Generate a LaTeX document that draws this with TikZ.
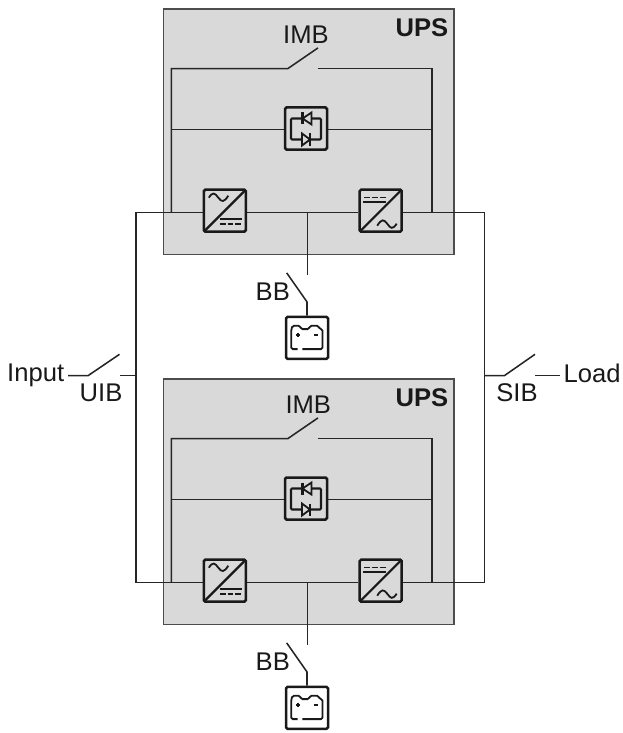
\documentclass[tikz,border=0pt]{standalone}
\usepackage{fontspec}
\setmainfont{Liberation Sans}
\tikzset{
    wire/.style={line width=1.55pt, color=black!85},
    upsbox/.style={draw=black!70, line width=1.1pt, fill=black!15},
    unitbox/.style={draw=black!90, line width=2.5pt, rounded corners=1.5pt, minimum size=42pt, inner sep=0pt, fill=#1},
    glyph/.style={line width=1.8pt, color=black!90},
    lbl/.style={inner sep=0pt, font=\fontsize{25.6}{25.6}\selectfont, text=black!90},
    ac dc/.pic={
        \draw[glyph, line width=2.2pt] (-21,21) -- (21,-21);
        \draw[glyph] (-16,-13) .. controls (-12,-19) and (-10,-18) .. (-6.5,-13) .. controls (-3,-8.5) and (-1,-8) .. (3.5,-15);
        \draw[glyph] (-5,8.5) -- (17.5,8.5);
        \draw[glyph, dash pattern=on 5.8pt off 2pt] (-5,13.2) -- (17.5,13.2);
    },
    thyr pair/.pic={
        \draw[glyph, line width=2.1pt, rounded corners=1pt] (-3.5,-10) -- (-15,-10) -- (-15,11) -- (-4,11);
        \draw[glyph, line width=2.1pt, rounded corners=1pt] (5.5,-10) -- (15,-10) -- (15,11) -- (4,11);
        \draw[glyph] (5.5,-16) -- (-3.5,-10) -- (5.5,-4) -- cycle;
        \draw[glyph, line width=2.3pt] (-3.5,-16) -- (-3.5,-4);
        \draw[glyph] (-4,5) -- (4,11) -- (-4,17) -- cycle;
        \draw[glyph, line width=2.3pt] (4,5) -- (4,17);
    },
    batt cell/.pic={
        \draw[glyph, rounded corners=1.5pt] (-4.7,11.3) -- (15.5,11.3) -- (15.5,-8.7) -- (12.5,-8.7) -- (11.5,-12) -- (3,-12) -- (2,-8.7) -- (-6,-8.7) -- (-7,-12) -- (-14.5,-12) -- (-15.7,-8.7) -- (-15.7,11.3) -- (-9.5,11.3);
        \draw[glyph] (-11.5,-2.7) -- (-7,-2.7) (-9.25,-5) -- (-9.25,-0.4);
        \draw[glyph] (6.5,-2.7) -- (11,-2.7);
    }
}
\begin{document}
\begin{tikzpicture}[x=1pt, y=-1pt]
    \useasboundingbox (0,0) rectangle (622,733);

    \foreach \u/\dy/\imbx in {a/0/306, b/370/308.3} {
        \node[upsbox, minimum width=290.5pt, minimum height=245.5pt, inner sep=0pt] (ups\u) at (308.75,131.75+\dy) {};
        \node[lbl, anchor=base, font=\fontsize{25.6}{25.6}\selectfont\bfseries] (upslbl\u) at (422,36.7+\dy) {UPS};
        \node[lbl, anchor=base] (imblbl\u) at (\imbx,43.3+\dy) {IMB};

        \coordinate (imbl\u) at (171.3,68.7+\dy);
        \coordinate (imbr\u) at (431.9,68.7+\dy);
        \coordinate (imbo\u) at (287.7,68.7+\dy);
        \coordinate (imbt\u) at (318,47.9+\dy);
        \coordinate (imbe\u) at (317.8,68.7+\dy);
        \coordinate (busl\u) at (171.3,212.7+\dy);
        \coordinate (busr\u) at (431.9,212.7+\dy);
        \coordinate (tap\u) at (307.5,212.7+\dy);
        \coordinate (bbt\u) at (307.5,275+\dy);
        \coordinate (bbo\u) at (307,301.9+\dy);
        \coordinate (bbe\u) at (286.7,272.9+\dy);

        \node[unitbox=black!15] (byp\u) at (306,128.5+\dy) {};
        \node[unitbox=black!15] (rect\u) at (224.8,210.7+\dy) {};
        \node[unitbox=black!15] (inv\u) at (380.7,210.7+\dy) {};
        \node[unitbox=white] (bat\u) at (307,337.8+\dy) {};
        \node[lbl, anchor=base] (bblbl\u) at (272.8,300.7+\dy) {BB};

        \pic at (byp\u) {thyr pair};
        \pic at (rect\u) {ac dc};
        \pic[rotate=180] at (inv\u) {ac dc};
        \pic at (bat\u) {batt cell};

        \draw[wire] (busl\u) -- (imbl\u) -- (imbo\u) -- (imbt\u);
        \draw[wire] (imbe\u) -- (imbr\u) -- (busr\u);
        \draw[wire] (byp\u.west |- 0,129.3+\dy) -- (171.3,129.3+\dy);
        \draw[wire] (byp\u.east |- 0,129.3+\dy) -- (431.9,129.3+\dy);
        \draw[wire] ([yshift=-2pt]rect\u.east) -- ([yshift=-2pt]inv\u.west);
        \draw[wire] (tap\u) -- (bbt\u);
        \draw[wire] (bbe\u) -- (bbo\u) -- (bat\u.north -| bbo\u);
    }

    \coordinate (outtl) at (136,212.7);
    \coordinate (outbl) at (136,582.7);
    \coordinate (outtr) at (484.3,212.7);
    \coordinate (outbr) at (484.3,582.7);
    \draw[wire] ([yshift=-2pt]recta.west) -- (outtl) -- (outbl) -- ([yshift=-2pt]rectb.west);
    \draw[wire] ([yshift=-2pt]inva.east) -- (outtr) -- (outbr) -- ([yshift=-2pt]invb.east);

    \node[lbl, anchor=base west] (inlbl) at (7,381.7) {Input};
    \node[lbl, anchor=base] (uiblbl) at (101,401.7) {UIB};
    \node[lbl, anchor=base] (siblbl) at (517,401.7) {SIB};
    \node[lbl, anchor=base west] (loadlbl) at (563.5,382) {Load};

    \coordinate (uibs) at (68,375.7);
    \coordinate (uibo) at (88,375.7);
    \coordinate (uibt) at (119.5,354.3);
    \coordinate (uibe) at (120,375.7);
    \coordinate (uibj) at (136,375.7);
    \draw[wire] (uibs) -- (uibo) -- (uibt);
    \draw[wire] (uibe) -- (uibj);

    \coordinate (sibj) at (484.3,375.7);
    \coordinate (sibo) at (504.3,375.7);
    \coordinate (sibt) at (535,354.3);
    \coordinate (sibe) at (535,375.7);
    \coordinate (sibs) at (560,375.7);
    \draw[wire] (sibj) -- (sibo) -- (sibt);
    \draw[wire] (sibe) -- (sibs);
\end{tikzpicture}
\end{document}
